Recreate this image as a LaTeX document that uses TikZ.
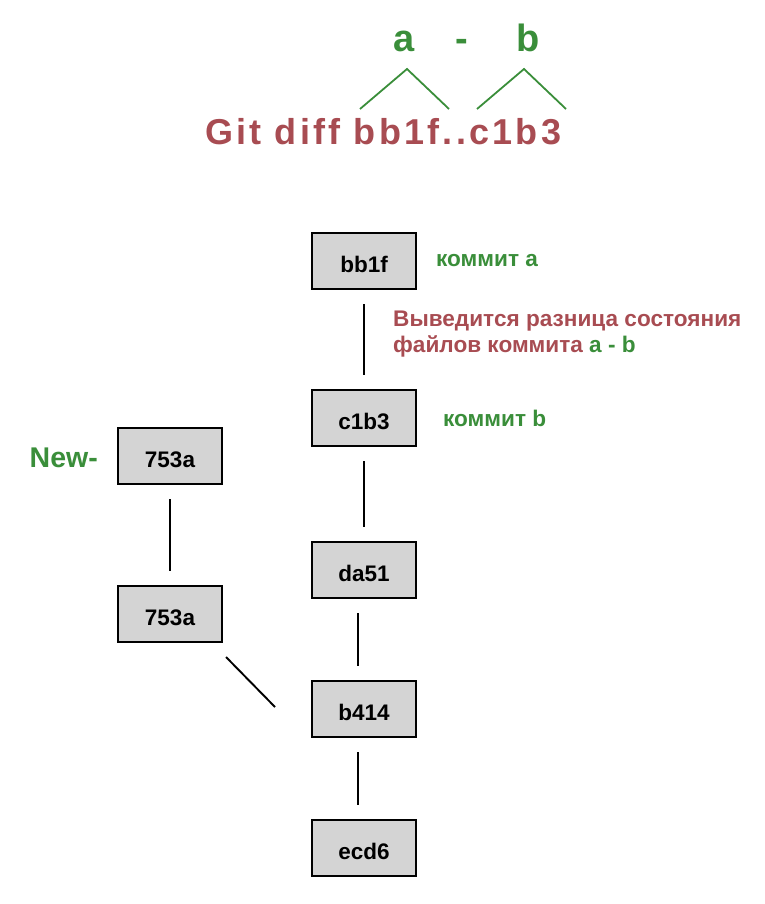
\documentclass[tikz,border=0pt]{standalone}
\usepackage{fontspec}
\setmainfont{Liberation Sans}
\newfontfamily\spacedfont[LetterSpace=9]{Liberation Sans}
\usetikzlibrary{positioning,calc}
\definecolor{gitred}{RGB}{168,76,82}
\definecolor{gitgreen}{RGB}{58,142,58}
\definecolor{boxgray}{RGB}{212,212,212}

\begin{document}
\begin{tikzpicture}[x=1pt, y=-1pt, font=\bfseries,
  commit/.style={draw, fill=boxgray, line width=2pt, minimum width=104pt, minimum height=56pt, inner sep=0pt,
    text height=23pt, text depth=0pt, font=\bfseries\fontsize{22.5}{24}\selectfont},
  note/.style={inner sep=0pt, align=left, font=\bfseries\fontsize{22.6}{26}\selectfont},
  link/.style={line width=1.9pt, shorten >=14pt, shorten <=14pt},
  brace/.style={gitgreen, line width=1.8pt}]
  \useasboundingbox (0,0) rectangle (764,904);
  % command and the a - b brackets
  \node[anchor=base west, inner sep=0pt, text=gitred, font=\spacedfont\bfseries\fontsize{36}{40}\selectfont] (cmd) at (205,145) {Git diff bb1f..c1b3};
  \node[anchor=base, inner sep=0pt, text=gitgreen, font=\bfseries\fontsize{38}{40}\selectfont] (opa) at (404,52) {a};
  \node[anchor=base, inner sep=0pt, text=gitgreen, font=\bfseries\fontsize{38}{40}\selectfont] (opminus) at (462,52) {-};
  \node[anchor=base, inner sep=0pt, text=gitgreen, font=\bfseries\fontsize{38}{40}\selectfont] (opb) at (528,52) {b};
  \draw[brace] (360,109) -- (407,69) -- (449,109);
  \draw[brace] (477,109) -- (524,69) -- (566,109);
  % commits
  \node[commit] (bb1f) at (364,261) {bb1f};
  \node[commit] (c1b3) at (364,418) {c1b3};
  \node[commit] (da51) at (364,570) {da51};
  \node[commit] (b414) at (364,709) {b414};
  \node[commit] (ecd6) at (364,848) {ecd6};
  \node[commit] (new) at (170,456) {753a};
  \node[commit] (old) at (170,614) {753a};
  % labels
  \node[note, text=gitgreen, right=19pt of bb1f] (labela) {коммит a};
  \node[note, text=gitgreen, right=26pt of c1b3] (labelb) {коммит b};
  \node[note, text=gitgreen, left=19pt of new, yshift=-2pt, font=\bfseries\fontsize{28.5}{30}\selectfont] (newlabel) {New-};
  \node[note, text=gitred, anchor=west] (difftext) at (393,334) {Выведится разница состояния\\файлов коммита \textcolor{gitgreen}{a - b}};
  % history lines
  \draw[link] (bb1f) -- (c1b3);
  \draw[link] (c1b3) -- (da51);
  \draw[link] ([xshift=-6pt]da51.south) -- ([xshift=-6pt]b414.north);
  \draw[link] ([xshift=-6pt]b414.south) -- ([xshift=-6pt]ecd6.north);
  \draw[link] (new) -- (old);
  \draw[line width=1.9pt] ($(old.south east)+(3,14)$) -- ($(b414.west)+(-36,-2)$);
\end{tikzpicture}
\end{document}
